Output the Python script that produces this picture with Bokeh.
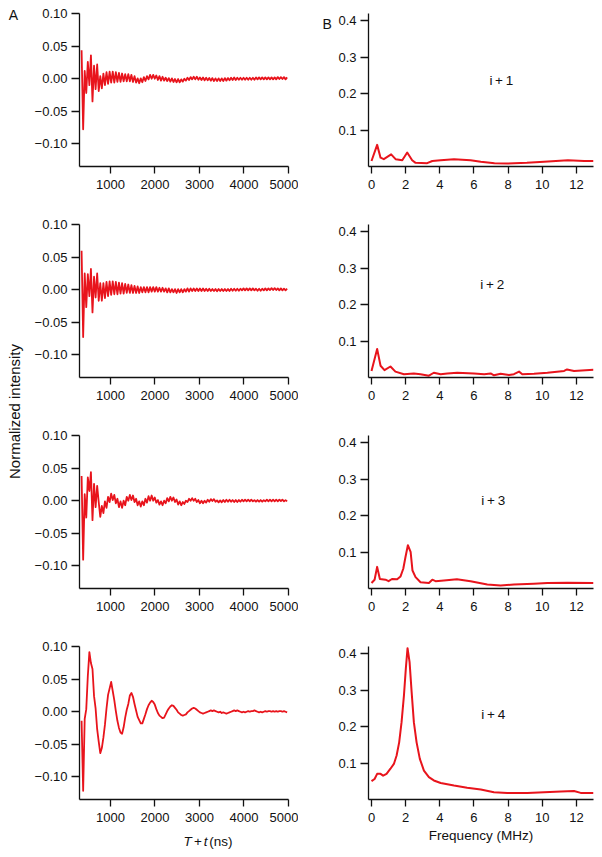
import numpy as np
from bokeh.plotting import figure
from bokeh.layouts import row, column
from bokeh.models import Range1d, FixedTicker, CustomJSTickFormatter, Label
from bokeh.embed import file_html
from bokeh.resources import INLINE
from bokeh.core.properties import value

FONT = "Liberation Sans"
RED = "#e8141c"
INK = "#111111"

# ---------------- data ----------------
t_start_ns = 350
t_step_ns = 35

trace_i1 = [0.044, -0.078, 0.012, -0.022, 0.026, -0.010, 0.036, -0.035, 0.020, -0.016,
            0.022, -0.019, 0.004, -0.015, 0.008, -0.010, 0.010, -0.008, 0.011, -0.006,
            0.011, -0.006, 0.010, -0.005, 0.009, -0.005, 0.008, -0.004, 0.007, -0.004,
            0.007, -0.004, 0.006, -0.005, 0.004, -0.006, 0.0005, -0.007, 0.0005, -0.0055,
            0.0025, -0.0035, 0.004, -0.001, 0.006, 0.000, 0.006, 0.000, 0.005, -0.002,
            0.004, -0.003, 0.003, -0.003, 0.0015, -0.0035, 0.001, -0.0045, 0.0005, -0.005,
            -0.0005, -0.0055, -0.0005, -0.0055, -0.001, -0.0045, 0.000, -0.003, 0.0015, -0.002,
            0.0025, -0.001, 0.003, -0.001, 0.003, -0.0015, 0.002, -0.002, 0.002, -0.0025,
            0.0015, -0.0025, 0.001, -0.003, 0.001, -0.0035, 0.0005, -0.0035, 0.0005, -0.0035,
            0.0005, -0.0035, 0.001, -0.003, 0.001, -0.0025, 0.0015, -0.002, 0.002, -0.002,
            0.0015, -0.0015, 0.0015, -0.0015, 0.0015, -0.0015, 0.0015, -0.0015, 0.0015, -0.0015,
            0.0015, -0.0015, 0.002, -0.001, 0.002, -0.001, 0.002, -0.001, 0.002, -0.001,
            0.002, -0.001, 0.002, -0.001, 0.002, -0.001, 0.0025, -0.0005, 0.0025, -0.0005,
            0.0025, -0.001, 0.002]

trace_i2 = [0.060, -0.073, 0.025, -0.027, 0.024, -0.010, 0.032, -0.035, 0.020, -0.012,
            0.025, -0.017, 0.010, -0.017, 0.010, -0.013, 0.012, -0.010, 0.013, -0.008,
            0.013, -0.007, 0.012, -0.007, 0.011, -0.006, 0.010, -0.006, 0.009, -0.005,
            0.008, -0.005, 0.007, -0.005, 0.006, -0.005, 0.005, -0.005, 0.004, -0.004,
            0.004, -0.004, 0.004, -0.004, 0.004, -0.003, 0.004, -0.003, 0.004, -0.003,
            0.003, -0.003, 0.003, -0.003, 0.002, -0.004, 0.002, -0.004, 0.001, -0.004,
            0.001, -0.005, 0.001, -0.004, 0.001, -0.004, 0.001, -0.003, 0.002, -0.003,
            0.002, -0.002, 0.002, -0.002, 0.002, -0.002, 0.002, -0.002, 0.002, -0.002,
            0.0015, -0.002, 0.0015, -0.002, 0.001, -0.002, 0.001, -0.0025, 0.001, -0.002,
            0.001, -0.002, 0.001, -0.002, 0.001, -0.002, 0.0015, -0.0015, 0.0015, -0.0015,
            0.0015, -0.0015, 0.0015, -0.001, 0.002, -0.001, 0.002, -0.001, 0.002, -0.001,
            0.002, -0.001, 0.0015, -0.0015, 0.0015, -0.0015, 0.0015, -0.001, 0.002, -0.001,
            0.002, -0.0005, 0.0025, -0.0005, 0.0025, -0.0005, 0.002, -0.001, 0.002, -0.001,
            0.0015, -0.001, 0.0015]

trace_i3 = [0.038, -0.091, 0.010, -0.026, 0.036, 0.015, 0.044, -0.030, 0.026, -0.010,
            0.023, -0.002, -0.025, -0.008, -0.019, -0.001, -0.011, 0.006, -0.002, 0.011,
            0.001, 0.009, -0.004, 0.003, -0.010, -0.001, -0.011, 0.000, -0.007, 0.006,
            0.000, 0.009, 0.001, 0.008, -0.002, 0.003, -0.007, -0.001, -0.009, -0.001,
            -0.007, 0.003, -0.003, 0.007, 0.000, 0.008, 0.000, 0.005, -0.003, 0.001,
            -0.006, -0.001, -0.007, 0.000, -0.004, 0.004, -0.001, 0.006, 0.000, 0.005,
            -0.002, 0.002, -0.006, -0.001, -0.007, -0.002, -0.005, 0.000, -0.002, 0.003,
            0.000, 0.004, 0.000, 0.003, -0.002, 0.001, -0.004, 0.000, -0.004, 0.000,
            -0.003, 0.0015, -0.0015, 0.0025, -0.0005, 0.0025, -0.0015, 0.0005, -0.0025, 0.0005,
            -0.0025, 0.001, -0.002, 0.0015, -0.0015, 0.0015, -0.0015, 0.001, -0.002, 0.001,
            -0.002, 0.001, -0.0015, 0.0015, -0.001, 0.0015, -0.001, 0.0015, -0.001, 0.0015,
            -0.001, 0.001, -0.0015, 0.001, -0.0015, 0.001, -0.0015, 0.001, -0.001, 0.0015,
            -0.001, 0.0015, -0.001, 0.0015, -0.001, 0.0015, -0.001, 0.0015, -0.0005, 0.0015,
            -0.001, 0.001, -0.001]

trace_i4 = [-0.014, -0.122, -0.011, 0.004, 0.055, 0.092, 0.075, 0.066, 0.024, 0.005,
            -0.027, -0.046, -0.064, -0.056, -0.040, -0.020, 0.005, 0.026, 0.036, 0.046,
            0.032, 0.018, 0.001, -0.014, -0.025, -0.032, -0.034, -0.024, -0.009, 0.003,
            0.012, 0.025, 0.029, 0.023, 0.012, 0.002, -0.008, -0.013, -0.018, -0.018,
            -0.011, -0.004, 0.004, 0.010, 0.014, 0.017, 0.015, 0.011, 0.004, -0.002,
            -0.006, -0.008, -0.010, -0.009, -0.004, 0.001, 0.005, 0.008, 0.010, 0.009,
            0.006, 0.003, -0.001, -0.003, -0.005, -0.006, -0.005, -0.004, -0.001, 0.001,
            0.003, 0.005, 0.006, 0.005, 0.003, 0.001, -0.001, -0.002, -0.003, -0.002,
            -0.001, 0.000, 0.001, 0.002, 0.001, 0.002, 0.001, 0.000, -0.001, 0.000,
            -0.002, -0.001, -0.002, -0.003, -0.002, -0.001, 0.000, 0.001, 0.002, 0.001,
            0.002, 0.001, 0.000, -0.001, 0.000, -0.001, 0.000, 0.001, 0.000, 0.001,
            0.001, 0.002, 0.001, 0.000, -0.001, 0.000, -0.001, 0.000, 0.001, 0.000,
            0.001, 0.001, 0.000, 0.001, 0.000, 0.001, 0.000, 0.001, 0.001, 0.000,
            0.001, 0.000, -0.001]

freq_i1 = [0.0, 0.33, 0.53, 0.72, 1.15, 1.41, 1.8, 2.09, 2.38, 2.58, 3.26, 3.56, 4.05,
           4.83, 5.8, 6.4, 7.2, 7.95, 9.1, 10.1, 11.5, 12.45, 13.0]
spec_i1 = [0.017, 0.061, 0.026, 0.022, 0.035, 0.022, 0.019, 0.040, 0.019, 0.012, 0.011,
           0.017, 0.019, 0.022, 0.019, 0.015, 0.011, 0.010, 0.012, 0.015, 0.019, 0.017, 0.017]

freq_i2 = [0.0, 0.33, 0.53, 0.76, 1.11, 1.4, 1.9, 2.48, 2.87, 3.36, 3.65, 4.05, 4.44, 5.02,
           6.0, 6.6, 6.98, 7.17, 7.56, 8.05, 8.34, 8.64, 8.83, 9.52, 10.3, 11.28, 11.45,
           11.86, 13.0]
spec_i2 = [0.020, 0.080, 0.034, 0.022, 0.032, 0.018, 0.011, 0.013, 0.011, 0.007, 0.015,
           0.011, 0.013, 0.015, 0.013, 0.011, 0.013, 0.008, 0.012, 0.009, 0.011, 0.018,
           0.011, 0.012, 0.015, 0.020, 0.024, 0.020, 0.023]

freq_i3 = [0.0, 0.18, 0.33, 0.49, 0.82, 1.0, 1.2, 1.5, 1.7, 1.86, 1.99, 2.13, 2.29, 2.4,
           2.58, 2.87, 3.36, 3.56, 3.75, 4.24, 5.0, 5.8, 6.78, 7.56, 8.34, 9.5, 10.3,
           11.47, 13.0]
spec_i3 = [0.017, 0.026, 0.061, 0.028, 0.026, 0.022, 0.028, 0.027, 0.035, 0.056, 0.088,
           0.120, 0.102, 0.051, 0.033, 0.019, 0.017, 0.026, 0.022, 0.024, 0.027, 0.022,
           0.013, 0.010, 0.013, 0.015, 0.017, 0.018, 0.017]

freq_i4 = [0.0, 0.18, 0.33, 0.53, 0.68, 0.88, 1.11, 1.31, 1.47, 1.62, 1.76, 1.9, 2.01,
           2.11, 2.23, 2.35, 2.48, 2.64, 2.83, 3.07, 3.36, 3.65, 4.05, 4.83, 5.6, 6.4,
           7.17, 7.95, 9.13, 10.1, 11.1, 11.86, 12.25, 13.0]
spec_i4 = [0.052, 0.058, 0.072, 0.072, 0.067, 0.072, 0.086, 0.099, 0.122, 0.158, 0.213,
           0.286, 0.359, 0.415, 0.377, 0.295, 0.213, 0.158, 0.113, 0.081, 0.063, 0.054,
           0.047, 0.040, 0.034, 0.029, 0.022, 0.020, 0.020, 0.022, 0.024, 0.025, 0.020, 0.020]

panel_names = ["i\u2009+\u20091", "i\u2009+\u20092", "i\u2009+\u20093", "i\u2009+\u20094"]
time_ticks = [1000, 2000, 3000, 4000, 5000]
time_yticks = [-0.10, -0.05, 0.0, 0.05, 0.10]
freq_ticks = [0, 2, 4, 6, 8, 10, 12]
freq_yticks = [0.1, 0.2, 0.3, 0.4]

traces = [trace_i1, trace_i2, trace_i3, trace_i4]
spectra = [(freq_i1, spec_i1), (freq_i2, spec_i2), (freq_i3, spec_i3), (freq_i4, spec_i4)]

# ---------------- layout ----------------
FRAME_H = 153
ROW_H = [205, 211, 211, 222]
TOP = [13, 19, 19, 19]
TOTAL_H = sum(ROW_H)
SIDE_W = 28
LEFT_W = 270
RIGHT_W = 296
B_W = 37
XSTRIP_H = 17
LEFT4_H = ROW_H[3] - XSTRIP_H


def style(p, xt, yt, yfmt):
    p.outline_line_color = None
    p.xgrid.visible = False
    p.ygrid.visible = False
    p.background_fill_color = "white"
    p.border_fill_color = "white"
    for ax in (p.xaxis[0], p.yaxis[0]):
        ax.axis_line_color = INK
        ax.axis_line_width = 1.3
        ax.major_tick_line_color = INK
        ax.major_tick_line_width = 1.3
        ax.major_tick_in = 0
        ax.minor_tick_line_color = None
        ax.major_label_text_font = FONT
        ax.major_label_text_font_size = "13px"
        ax.major_label_text_color = INK
    p.xaxis[0].major_tick_out = 7
    p.xaxis[0].major_label_standoff = 6
    p.yaxis[0].major_tick_out = 8
    p.yaxis[0].major_label_standoff = 4
    p.xaxis[0].ticker = FixedTicker(ticks=xt)
    p.yaxis[0].ticker = FixedTicker(ticks=yt)
    p.yaxis[0].formatter = CustomJSTickFormatter(
        code="return (tick < -1e-9 ? '\\u2212' : '') + Math.abs(tick).toFixed(%d);" % yfmt)


def text_strip(w, h):
    s = figure(width=w, height=h, x_range=Range1d(0, w), y_range=Range1d(h, 0),
               x_axis_type=None, y_axis_type=None, output_backend="svg",
               toolbar_location=None, min_border=0)
    s.outline_line_color = None
    s.background_fill_color = "white"
    s.border_fill_color = "white"
    return s


def make_left(k):
    h = LEFT4_H if k == 3 else ROW_H[k]
    p = figure(width=LEFT_W, height=h, x_range=Range1d(303, 5001),
               y_range=Range1d(-0.1354, 0.1006),
               output_backend="svg", toolbar_location=None,
               min_border_left=51, min_border_right=10, min_border_top=TOP[k],
               min_border_bottom=h - TOP[k] - FRAME_H)
    style(p, time_ticks, time_yticks, 2)
    y = traces[k]
    t = [t_start_ns + t_step_ns * j for j in range(len(y))]
    p.line(t, y, line_color=RED, line_width=1.8, line_join="round")
    return p


label_pos = [(7.6, 0.237), (7.07, 0.256), (7.13, 0.242), (7.13, 0.234)]


def make_right(k, width, border_left):
    h = ROW_H[k]
    p = figure(width=width, height=h, x_range=Range1d(-0.176, 13.0),
               y_range=Range1d(0.002, 0.4195),
               output_backend="svg", toolbar_location=None,
               min_border_left=border_left, min_border_right=1, min_border_top=TOP[k],
               min_border_bottom=h - TOP[k] - FRAME_H)
    style(p, freq_ticks, freq_yticks, 1)
    f, s = spectra[k]
    p.line(f, s, line_color=RED, line_width=2.0, line_join="round")
    lx, ly = label_pos[k]
    p.add_layout(Label(x=lx, y=ly, text=panel_names[k], text_font=FONT,
                       text_font_size="13.5px", text_color=INK,
                       text_align="center", text_baseline="middle"))
    if k == 3:
        p.xaxis[0].axis_label = "Frequency (MHz)"
        p.xaxis[0].axis_label_text_font = FONT
        p.xaxis[0].axis_label_text_font_size = "13.5px"
        p.xaxis[0].axis_label_text_font_style = "normal"
        p.xaxis[0].axis_label_text_color = INK
        p.xaxis[0].axis_label_standoff = 3
    return p


# side strip: panel letter A and the shared y label
side = text_strip(SIDE_W, TOTAL_H)
side.text(x=[12.8], y=[14.2], text=["A"], text_font=value(FONT), text_font_size="14px",
          text_color=INK, text_align="center", text_baseline="middle")
side.text(x=[14.0], y=[411], text=["Normalized intensity"], angle=np.pi / 2,
          text_font=value(FONT), text_font_size="15px", text_color=INK,
          text_align="center", text_baseline="middle")

# strip holding panel letter B (row 1)
bstrip = text_strip(B_W, ROW_H[0])
bstrip.text(x=[28.7], y=[14.2], text=["B"], text_font=value(FONT), text_font_size="14px",
            text_color=INK, text_align="center", text_baseline="middle")

# strip holding the time-axis title with italic T and t
xstrip = text_strip(LEFT_W, XSTRIP_H)
for txt, st, xx in [("T", "italic", 134.5), ("+", "normal", 148.0),
                    ("t", "italic", 160.5), ("(ns)", "normal", 167.5)]:
    xstrip.text(x=[xx], y=[9], text=[txt], text_font=value(FONT), text_font_size="13.5px",
                text_font_style=st, text_color=INK, text_align="left", text_baseline="middle")

row1 = row(make_left(0), bstrip, make_right(0, RIGHT_W - B_W, 70 - B_W))
row2 = row(make_left(1), make_right(1, RIGHT_W, 70))
row3 = row(make_left(2), make_right(2, RIGHT_W, 70))
row4 = row(column(make_left(3), xstrip), make_right(3, RIGHT_W, 70))

p = row(side, column(row1, row2, row3, row4))

open("out.html", "w").write(file_html(p, INLINE))
